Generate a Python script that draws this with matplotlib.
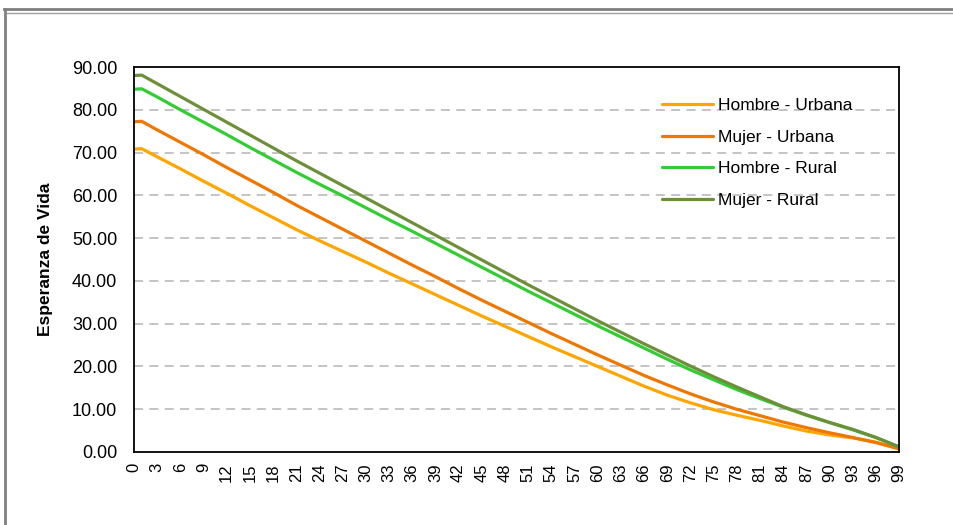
import matplotlib
matplotlib.use("Agg")
import matplotlib.pyplot as plt
from matplotlib.lines import Line2D
from matplotlib.ticker import FormatStrFormatter

plt.rcParams['font.family'] = ['Liberation Sans', 'DejaVu Sans']

# Edades (puntos de lectura)
edades = [0, 1, 3, 6, 9, 12, 15, 18, 21, 24, 27, 30, 33, 36, 39, 42, 45, 48,
          51, 54, 57, 60, 63, 66, 69, 72, 75, 78, 81, 84, 87, 90, 93, 96, 99]

hombre_urbana = [70.8, 70.9, 69.0, 66.2, 63.3, 60.5, 57.6, 54.8, 52.0, 49.4, 46.9,
                 44.4, 41.8, 39.3, 36.8, 34.3, 31.8, 29.4, 27.0, 24.6, 22.3, 20.0,
                 17.7, 15.4, 13.3, 11.5, 9.9, 8.6, 7.4, 6.1, 4.9, 4.0, 3.3, 2.3, 0.7]
mujer_urbana = [77.2, 77.3, 75.3, 72.4, 69.5, 66.5, 63.6, 60.7, 57.7, 54.9, 52.1,
                49.3, 46.5, 43.7, 41.0, 38.2, 35.5, 32.9, 30.3, 27.7, 25.2, 22.7,
                20.3, 17.9, 15.7, 13.6, 11.7, 10.0, 8.5, 7.0, 5.7, 4.5, 3.4, 2.2, 0.8]
hombre_rural = [84.8, 84.9, 83.0, 80.0, 77.1, 74.2, 71.2, 68.3, 65.4, 62.6, 59.9,
                57.1, 54.3, 51.6, 48.8, 46.0, 43.2, 40.4, 37.6, 34.9, 32.2, 29.5,
                26.9, 24.3, 21.7, 19.2, 16.9, 14.6, 12.5, 10.5, 8.6, 6.9, 5.2, 3.4, 1.2]
mujer_rural = [88.0, 88.1, 86.1, 83.1, 80.1, 77.1, 74.1, 71.1, 68.1, 65.2, 62.3,
               59.4, 56.5, 53.6, 50.7, 47.8, 44.9, 42.0, 39.1, 36.3, 33.5, 30.7,
               28.0, 25.3, 22.7, 20.1, 17.6, 15.2, 12.9, 10.6, 8.7, 6.9, 5.3, 3.4, 1.2]

series = [
    ('Hombre - Urbana', hombre_urbana, '#FFA500'),
    ('Mujer - Urbana', mujer_urbana, '#EE7700'),
    ('Hombre - Rural', hombre_rural, '#33CC33'),
    ('Mujer - Rural', mujer_rural, '#6E8F3A'),
]

fig = plt.figure(figsize=(9.54, 5.25), dpi=100)

# Marco gris de la imagen
fig.add_artist(Line2D([4 / 954, 1], [1 - 9 / 525, 1 - 9 / 525], color='#808080', lw=2.0))
fig.add_artist(Line2D([7 / 954, 1], [1 - 12.5 / 525, 1 - 12.5 / 525], color='#A0A0A0', lw=1.0))
fig.add_artist(Line2D([5 / 954, 5 / 954], [0, 1 - 9 / 525], color='#808080', lw=2.0))

ax = fig.add_axes([134 / 954, 73 / 525, 765 / 954, 385 / 525])

for nombre, valores, color in series:
    ax.plot(edades, valores, color=color, lw=2.3, label=nombre, solid_capstyle='round')

ax.set_xlim(0, 99)
ax.set_ylim(0, 90)
ax.set_xticks(range(0, 100, 3))
ax.set_xticklabels([str(v) for v in range(0, 100, 3)], rotation=90, fontsize=12)
ax.set_yticks(range(0, 91, 10))
ax.yaxis.set_major_formatter(FormatStrFormatter('%.2f'))
ax.tick_params(axis='y', labelsize=13, length=0, pad=12)
ax.tick_params(axis='x', length=0, pad=8)

for v in range(10, 90, 10):
    ax.axhline(v, color='#BFBFBF', lw=1.3, ls=(0, (5, 3.5)), zorder=0)

for s in ax.spines.values():
    s.set_color('black')
    s.set_linewidth(1.3)

ax.set_ylabel('Esperanza de Vida', fontsize=12.5, fontweight='bold', labelpad=14)

ax.legend(loc='upper left', bbox_to_anchor=(0.67, 0.96), frameon=False,
          fontsize=12.5, handlelength=2.9, handletextpad=0.3, labelspacing=0.95)

fig.savefig('out.png', dpi=100)
